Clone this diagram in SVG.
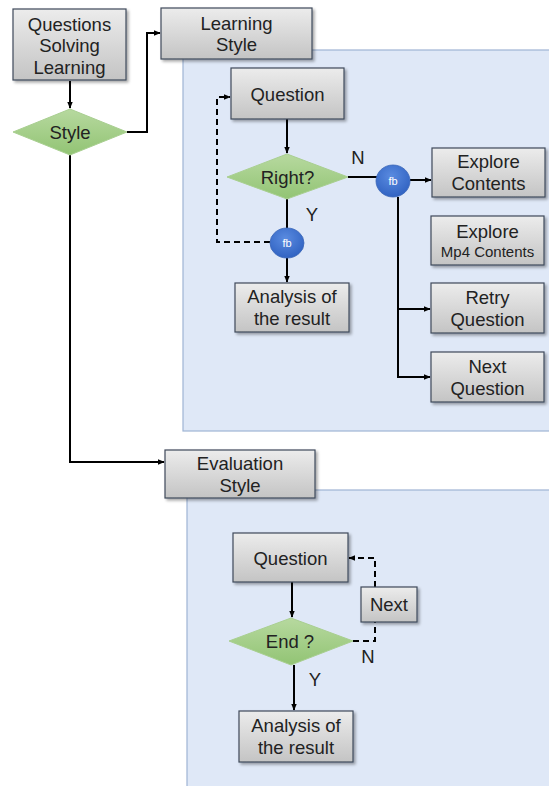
<svg xmlns="http://www.w3.org/2000/svg" width="549" height="786" viewBox="0 0 549 786">
  <defs>
    <linearGradient id="gBox" x1="0" y1="0" x2="0" y2="1">
      <stop offset="0" stop-color="#ececec"/>
      <stop offset="1" stop-color="#c4c4c4"/>
    </linearGradient>
    <linearGradient id="gDia" x1="0" y1="0" x2="0" y2="1">
      <stop offset="0" stop-color="#b7d99f"/>
      <stop offset="1" stop-color="#92c474"/>
    </linearGradient>
    <radialGradient id="gFb" cx="0.45" cy="0.35" r="0.7">
      <stop offset="0" stop-color="#5a8be0"/>
      <stop offset="1" stop-color="#2e60c0"/>
    </radialGradient>
    <filter id="sh" x="-10%" y="-10%" width="130%" height="140%">
      <feGaussianBlur in="SourceAlpha" stdDeviation="1.5"/>
      <feOffset dx="1.5" dy="2" result="b"/>
      <feComponentTransfer><feFuncA type="linear" slope="0.35"/></feComponentTransfer>
      <feMerge><feMergeNode/><feMergeNode in="SourceGraphic"/></feMerge>
    </filter>
    <marker id="arr" viewBox="0 0 10 10" refX="9" refY="5" markerWidth="7" markerHeight="7" markerUnits="userSpaceOnUse" orient="auto">
      <path d="M0,1 L10,5 L0,9 z" fill="#000"/>
    </marker>
  </defs>
  <style>
    .box { fill: url(#gBox); stroke: #3f4a5a; stroke-width: 1.2; filter: url(#sh); }
    .dia { fill: url(#gDia); stroke: #a9cf91; stroke-width: 1; }
    .fb { fill: url(#gFb); stroke: #3a66b8; stroke-width: 0.8; }
    .panel { fill: #dfe8f7; stroke: #9fb4d4; stroke-width: 1.2; }
    .t { font-family: "Liberation Sans", Arial, sans-serif; font-size: 18.5px; fill: #222; text-anchor: middle; }
    .ts { font-family: "Liberation Sans", Arial, sans-serif; font-size: 15px; fill: #222; text-anchor: middle; }
    .tf { font-family: "Liberation Sans", Arial, sans-serif; font-size: 11px; fill: #ffffff; text-anchor: middle; }
    .ln { fill: none; stroke: #000; stroke-width: 2; }
    .dash { fill: none; stroke: #000; stroke-width: 2; stroke-dasharray: 6 4; }
  </style>

  <!-- background panels -->
  <rect class="panel" x="183" y="50" width="370" height="381"/>
  <rect class="panel" x="187" y="490" width="366" height="300"/>

  <!-- connectors -->
  <g id="connectors">
    <path class="ln" d="M70,81 V108" marker-end="url(#arr)"/>
    <path class="ln" d="M127,132 H147 V33 H160" marker-end="url(#arr)"/>
    <path class="ln" d="M70,155 V462 H164" marker-end="url(#arr)"/>
    <!-- learning style flow -->
    <path class="ln" d="M287,119 V153" marker-end="url(#arr)"/>
    <path class="ln" d="M287,199 V228"/>
    <path class="ln" d="M287,258 V282" marker-end="url(#arr)"/>
    <path class="dash" d="M270,242 H217 V97 H230" marker-end="url(#arr)"/>
    <path class="ln" d="M348,177 H377"/>
    <path class="ln" d="M410,180 H431" marker-end="url(#arr)"/>
    <path class="ln" d="M398,197 V377"/>
    <path class="ln" d="M397,309 H430" marker-end="url(#arr)"/>
    <path class="ln" d="M397,377 H430" marker-end="url(#arr)"/>
    <!-- evaluation style flow -->
    <path class="ln" d="M292,582 V617" marker-end="url(#arr)"/>
    <path class="ln" d="M294,665 V710" marker-end="url(#arr)"/>
    <path class="dash" d="M353,641 H375 V622"/>
    <path class="dash" d="M375,587 V558 H349" marker-end="url(#arr)"/>
  </g>

  <!-- nodes -->
  <g id="start">
    <rect class="box" x="13" y="9" width="113" height="71"/>
    <text class="t" x="69.5" y="30.5">Questions</text>
    <text class="t" x="69.5" y="52">Solving</text>
    <text class="t" x="69.5" y="73.5">Learning</text>
  </g>
  <g id="style">
    <polygon class="dia" points="13,132 70,109 127,132 70,155"/>
    <text class="t" x="70" y="138.5">Style</text>
  </g>
  <g id="learning-style">
    <rect class="box" x="161" y="8" width="151" height="51"/>
    <text class="t" x="236.5" y="29.5">Learning</text>
    <text class="t" x="236.5" y="51">Style</text>
  </g>
  <g id="question-1">
    <rect class="box" x="231" y="68" width="113" height="51"/>
    <text class="t" x="287.5" y="100.5">Question</text>
  </g>
  <g id="right">
    <polygon class="dia" points="227,177 287,154 348,177 287,199"/>
    <text class="t" x="287.5" y="183.5">Right?</text>
  </g>
  <text class="t" x="358" y="164">N</text>
  <text class="t" x="312" y="221">Y</text>
  <g id="fb-1">
    <ellipse class="fb" cx="287" cy="243" rx="17" ry="15"/>
    <text class="tf" x="287" y="247">fb</text>
  </g>
  <g id="fb-2">
    <ellipse class="fb" cx="393" cy="181" rx="17" ry="16"/>
    <text class="tf" x="393" y="185">fb</text>
  </g>
  <g id="analysis-1">
    <rect class="box" x="235" y="283" width="114" height="49"/>
    <text class="t" x="292" y="303">Analysis of</text>
    <text class="t" x="292" y="324.5">the result</text>
  </g>
  <g id="explore-contents">
    <rect class="box" x="432" y="148" width="113" height="49"/>
    <text class="t" x="488.5" y="168">Explore</text>
    <text class="t" x="488.5" y="190">Contents</text>
  </g>
  <g id="explore-mp4">
    <rect class="box" x="431" y="216" width="113" height="49"/>
    <text class="t" x="487.5" y="238">Explore</text>
    <text class="ts" x="487.5" y="257">Mp4 Contents</text>
  </g>
  <g id="retry-question">
    <rect class="box" x="431" y="283" width="113" height="50"/>
    <text class="t" x="487.5" y="304">Retry</text>
    <text class="t" x="487.5" y="325.5">Question</text>
  </g>
  <g id="next-question">
    <rect class="box" x="431" y="352" width="113" height="50"/>
    <text class="t" x="487.5" y="373">Next</text>
    <text class="t" x="487.5" y="394.5">Question</text>
  </g>
  <g id="evaluation-style">
    <rect class="box" x="165" y="450" width="150" height="48"/>
    <text class="t" x="240" y="470">Evaluation</text>
    <text class="t" x="240" y="491.5">Style</text>
  </g>
  <g id="question-2">
    <rect class="box" x="233" y="533" width="115" height="49"/>
    <text class="t" x="290.5" y="564.5">Question</text>
  </g>
  <g id="end">
    <polygon class="dia" points="229,641 291,618 353,641 291,665"/>
    <text class="t" x="290" y="647.5">End ?</text>
  </g>
  <text class="t" x="368" y="663">N</text>
  <text class="t" x="315" y="686">Y</text>
  <g id="next">
    <rect class="box" x="361" y="587" width="56" height="35"/>
    <text class="t" x="389" y="611">Next</text>
  </g>
  <g id="analysis-2">
    <rect class="box" x="239" y="711" width="114" height="51"/>
    <text class="t" x="296" y="732">Analysis of</text>
    <text class="t" x="296" y="753.5">the result</text>
  </g>
</svg>
